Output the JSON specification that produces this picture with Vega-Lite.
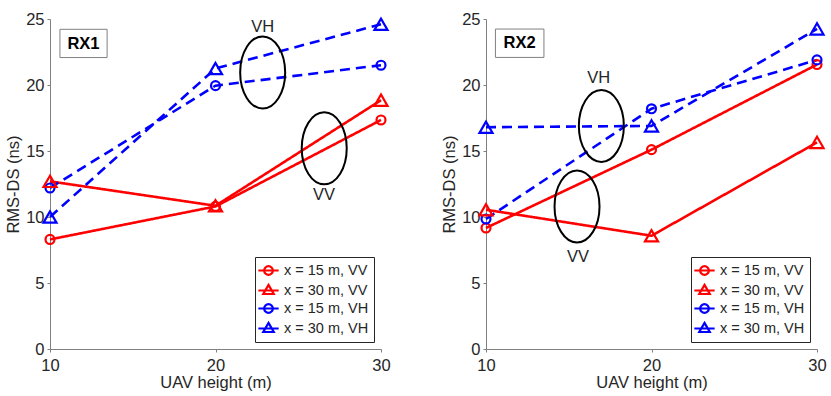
{
  "$schema": "https://vega.github.io/schema/vega-lite/v6.json",
  "padding": {"left": 5, "top": 11, "right": 5, "bottom": 0},
  "datasets": {
    "rms": [
      {"rx": "RX1", "series": "x = 15 m, VV", "h": 10, "v": 8.3},
      {"rx": "RX1", "series": "x = 15 m, VV", "h": 20, "v": 10.8},
      {"rx": "RX1", "series": "x = 15 m, VV", "h": 30, "v": 17.35},
      {"rx": "RX1", "series": "x = 30 m, VV", "h": 10, "v": 12.7},
      {"rx": "RX1", "series": "x = 30 m, VV", "h": 20, "v": 10.85},
      {"rx": "RX1", "series": "x = 30 m, VV", "h": 30, "v": 18.85},
      {"rx": "RX1", "series": "x = 15 m, VH", "h": 10, "v": 12.2},
      {"rx": "RX1", "series": "x = 15 m, VH", "h": 20, "v": 19.95},
      {"rx": "RX1", "series": "x = 15 m, VH", "h": 30, "v": 21.5},
      {"rx": "RX1", "series": "x = 30 m, VH", "h": 10, "v": 10.0},
      {"rx": "RX1", "series": "x = 30 m, VH", "h": 20, "v": 21.25},
      {"rx": "RX1", "series": "x = 30 m, VH", "h": 30, "v": 24.6},
      {"rx": "RX2", "series": "x = 15 m, VV", "h": 10, "v": 9.17},
      {"rx": "RX2", "series": "x = 15 m, VV", "h": 20, "v": 15.1},
      {"rx": "RX2", "series": "x = 15 m, VV", "h": 30, "v": 21.55},
      {"rx": "RX2", "series": "x = 30 m, VV", "h": 10, "v": 10.55},
      {"rx": "RX2", "series": "x = 30 m, VV", "h": 20, "v": 8.58},
      {"rx": "RX2", "series": "x = 30 m, VV", "h": 30, "v": 15.65},
      {"rx": "RX2", "series": "x = 15 m, VH", "h": 10, "v": 9.85},
      {"rx": "RX2", "series": "x = 15 m, VH", "h": 20, "v": 18.2},
      {"rx": "RX2", "series": "x = 15 m, VH", "h": 30, "v": 21.9},
      {"rx": "RX2", "series": "x = 30 m, VH", "h": 10, "v": 16.8},
      {"rx": "RX2", "series": "x = 30 m, VH", "h": 20, "v": 16.9},
      {"rx": "RX2", "series": "x = 30 m, VH", "h": 30, "v": 24.25}
    ],
    "ellipses": [
      {"rx": "RX1", "h": 22.85, "v": 20.95},
      {"rx": "RX1", "h": 26.57, "v": 15.2},
      {"rx": "RX2", "h": 16.97, "v": 16.9},
      {"rx": "RX2", "h": 15.5, "v": 10.8}
    ],
    "labels": [
      {"rx": "RX1", "h": 22.85, "v": 24.4, "text": "VH"},
      {"rx": "RX1", "h": 26.55, "v": 11.65, "text": "VV"},
      {"rx": "RX2", "h": 16.81, "v": 20.5, "text": "VH"},
      {"rx": "RX2", "h": 15.56, "v": 7.0, "text": "VV"}
    ],
    "boxes": [
      {"rx": "RX1", "h": 10.6, "h2": 13.45, "v": 22.08, "v2": 24.22, "hc": 12.02, "vc": 23.13},
      {"rx": "RX2", "h": 10.57, "h2": 13.5, "v": 22.09, "v2": 24.24, "hc": 12.03, "vc": 23.15}
    ]
  },
  "spacing": 49,
  "hconcat": [
    {
      "width": 331,
      "height": 330,
      "encoding": {
        "x": {"field": "h", "type": "quantitative", "scale": {"domain": [10, 30], "nice": false, "zero": false}, "axis": {"title": "UAV height (m)", "values": [10, 20, 30]}},
        "y": {"field": "v", "type": "quantitative", "scale": {"domain": [0, 25], "nice": false}, "axis": {"title": "RMS-DS (ns)", "values": [0, 5, 10, 15, 20, 25]}}
      },
      "layer": [
        {
          "data": {"name": "boxes"},
          "transform": [{"filter": "datum.rx == 'RX1'"}],
          "mark": {"type": "rect", "fill": "white", "stroke": "#808080", "strokeWidth": 1},
          "encoding": {"x2": {"field": "h2"}, "y2": {"field": "v2"}}
        },
        {
          "data": {"name": "boxes"},
          "transform": [{"filter": "datum.rx == 'RX1'"}],
          "mark": {"type": "text", "text": "RX1", "fontSize": 16.5, "fontWeight": "bold", "color": "black", "align": "center", "baseline": "middle"},
          "encoding": {"x": {"field": "hc", "type": "quantitative"}, "y": {"field": "vc", "type": "quantitative"}}
        },
        {
          "data": {"name": "rms"},
          "transform": [{"filter": "datum.rx == 'RX1'"}],
          "mark": {"type": "line", "strokeWidth": 2.6},
          "encoding": {
            "color": {"field": "series", "type": "nominal", "scale": {"domain": ["x = 30 m, VH", "x = 15 m, VH", "x = 30 m, VV", "x = 15 m, VV"], "range": ["#0000ff", "#0000ff", "#ff0000", "#ff0000"]}, "legend": null},
            "strokeDash": {"field": "series", "type": "nominal", "scale": {"domain": ["x = 30 m, VH", "x = 15 m, VH", "x = 30 m, VV", "x = 15 m, VV"], "range": [[10, 6], [10, 6], [1, 0], [1, 0]]}, "legend": null}
          }
        },
        {
          "data": {"name": "rms"},
          "transform": [{"filter": "datum.rx == 'RX1' && indexof(datum.series, '15') >= 0"}],
          "mark": {"type": "point", "shape": "circle", "size": 80, "filled": false, "strokeWidth": 2.2, "opacity": 1},
          "encoding": {"color": {"field": "series", "type": "nominal", "legend": null}}
        },
        {
          "data": {"name": "rms"},
          "transform": [{"filter": "datum.rx == 'RX1' && indexof(datum.series, '30') >= 0"}],
          "mark": {"type": "point", "shape": "triangle-up", "size": 170, "filled": false, "strokeWidth": 2.2, "opacity": 1},
          "encoding": {"color": {"field": "series", "type": "nominal", "legend": null}}
        },
        {
          "data": {"name": "rms"},
          "transform": [{"filter": "datum.rx == 'RX1'"}],
          "mark": {"type": "point", "size": 0, "filled": false, "strokeWidth": 2.2, "opacity": 1},
          "encoding": {
            "stroke": {"field": "series", "type": "nominal", "scale": {"domain": ["x = 15 m, VV", "x = 30 m, VV", "x = 15 m, VH", "x = 30 m, VH"], "range": ["#ff0000", "#ff0000", "#0000ff", "#0000ff"]},
              "legend": {"title": null, "orient": "bottom-right", "offset": 7, "padding": 5, "fillColor": "white", "strokeColor": "#262626", "labelFontSize": 14.5, "labelColor": "#262626", "symbolSize": 196, "symbolStrokeWidth": 2.2, "symbolOpacity": 1, "rowPadding": 0, "labelOffset": 7}},
            "shape": {"field": "series", "type": "nominal", "scale": {"domain": ["x = 15 m, VV", "x = 30 m, VV", "x = 15 m, VH", "x = 30 m, VH"], "range": ["M -1.45 0 L 1.45 0 M 0.62 0 A 0.62 0.62 0 1 1 -0.62 0 A 0.62 0.62 0 1 1 0.62 0 Z", "M -1.45 0 L 1.45 0 M 0 -0.8 L 0.75 0.5 L -0.75 0.5 Z", "M -1.45 0 L 1.45 0 M 0.62 0 A 0.62 0.62 0 1 1 -0.62 0 A 0.62 0.62 0 1 1 0.62 0 Z", "M -1.45 0 L 1.45 0 M 0 -0.8 L 0.75 0.5 L -0.75 0.5 Z"]},
              "legend": {"title": null, "orient": "bottom-right", "offset": 7, "padding": 5, "fillColor": "white", "strokeColor": "#262626", "labelFontSize": 14.5, "labelColor": "#262626", "symbolSize": 196, "symbolStrokeWidth": 2.2, "symbolOpacity": 1, "rowPadding": 0, "labelOffset": 7}}
          }
        },
        {
          "data": {"name": "ellipses"},
          "transform": [{"filter": "datum.rx == 'RX1'"}],
          "mark": {"type": "point", "shape": "M 0.625 0 A 0.625 1 0 1 1 -0.625 0 A 0.625 1 0 1 1 0.625 0 Z", "size": 5184, "filled": false, "stroke": "black", "strokeWidth": 2, "opacity": 1}
        },
        {
          "data": {"name": "labels"},
          "transform": [{"filter": "datum.rx == 'RX1'"}],
          "mark": {"type": "text", "fontSize": 16.5, "color": "#262626", "align": "center", "baseline": "middle"},
          "encoding": {"text": {"field": "text"}}
        }
      ]
    },
    {
      "width": 331,
      "height": 330,
      "encoding": {
        "x": {"field": "h", "type": "quantitative", "scale": {"domain": [10, 30], "nice": false, "zero": false}, "axis": {"title": "UAV height (m)", "values": [10, 20, 30]}},
        "y": {"field": "v", "type": "quantitative", "scale": {"domain": [0, 25], "nice": false}, "axis": {"title": "RMS-DS (ns)", "values": [0, 5, 10, 15, 20, 25]}}
      },
      "layer": [
        {
          "data": {"name": "boxes"},
          "transform": [{"filter": "datum.rx == 'RX2'"}],
          "mark": {"type": "rect", "fill": "white", "stroke": "#808080", "strokeWidth": 1},
          "encoding": {"x2": {"field": "h2"}, "y2": {"field": "v2"}}
        },
        {
          "data": {"name": "boxes"},
          "transform": [{"filter": "datum.rx == 'RX2'"}],
          "mark": {"type": "text", "text": "RX2", "fontSize": 16.5, "fontWeight": "bold", "color": "black", "align": "center", "baseline": "middle"},
          "encoding": {"x": {"field": "hc", "type": "quantitative"}, "y": {"field": "vc", "type": "quantitative"}}
        },
        {
          "data": {"name": "rms"},
          "transform": [{"filter": "datum.rx == 'RX2'"}],
          "mark": {"type": "line", "strokeWidth": 2.6},
          "encoding": {
            "color": {"field": "series", "type": "nominal", "scale": {"domain": ["x = 30 m, VH", "x = 15 m, VH", "x = 30 m, VV", "x = 15 m, VV"], "range": ["#0000ff", "#0000ff", "#ff0000", "#ff0000"]}, "legend": null},
            "strokeDash": {"field": "series", "type": "nominal", "scale": {"domain": ["x = 30 m, VH", "x = 15 m, VH", "x = 30 m, VV", "x = 15 m, VV"], "range": [[10, 6], [10, 6], [1, 0], [1, 0]]}, "legend": null}
          }
        },
        {
          "data": {"name": "rms"},
          "transform": [{"filter": "datum.rx == 'RX2' && indexof(datum.series, '15') >= 0"}],
          "mark": {"type": "point", "shape": "circle", "size": 80, "filled": false, "strokeWidth": 2.2, "opacity": 1},
          "encoding": {"color": {"field": "series", "type": "nominal", "legend": null}}
        },
        {
          "data": {"name": "rms"},
          "transform": [{"filter": "datum.rx == 'RX2' && indexof(datum.series, '30') >= 0"}],
          "mark": {"type": "point", "shape": "triangle-up", "size": 170, "filled": false, "strokeWidth": 2.2, "opacity": 1},
          "encoding": {"color": {"field": "series", "type": "nominal", "legend": null}}
        },
        {
          "data": {"name": "rms"},
          "transform": [{"filter": "datum.rx == 'RX2'"}],
          "mark": {"type": "point", "size": 0, "filled": false, "strokeWidth": 2.2, "opacity": 1},
          "encoding": {
            "stroke": {"field": "series", "type": "nominal", "scale": {"domain": ["x = 15 m, VV", "x = 30 m, VV", "x = 15 m, VH", "x = 30 m, VH"], "range": ["#ff0000", "#ff0000", "#0000ff", "#0000ff"]},
              "legend": {"title": null, "orient": "bottom-right", "offset": 7, "padding": 5, "fillColor": "white", "strokeColor": "#262626", "labelFontSize": 14.5, "labelColor": "#262626", "symbolSize": 196, "symbolStrokeWidth": 2.2, "symbolOpacity": 1, "rowPadding": 0, "labelOffset": 7}},
            "shape": {"field": "series", "type": "nominal", "scale": {"domain": ["x = 15 m, VV", "x = 30 m, VV", "x = 15 m, VH", "x = 30 m, VH"], "range": ["M -1.45 0 L 1.45 0 M 0.62 0 A 0.62 0.62 0 1 1 -0.62 0 A 0.62 0.62 0 1 1 0.62 0 Z", "M -1.45 0 L 1.45 0 M 0 -0.8 L 0.75 0.5 L -0.75 0.5 Z", "M -1.45 0 L 1.45 0 M 0.62 0 A 0.62 0.62 0 1 1 -0.62 0 A 0.62 0.62 0 1 1 0.62 0 Z", "M -1.45 0 L 1.45 0 M 0 -0.8 L 0.75 0.5 L -0.75 0.5 Z"]},
              "legend": {"title": null, "orient": "bottom-right", "offset": 7, "padding": 5, "fillColor": "white", "strokeColor": "#262626", "labelFontSize": 14.5, "labelColor": "#262626", "symbolSize": 196, "symbolStrokeWidth": 2.2, "symbolOpacity": 1, "rowPadding": 0, "labelOffset": 7}}
          }
        },
        {
          "data": {"name": "ellipses"},
          "transform": [{"filter": "datum.rx == 'RX2'"}],
          "mark": {"type": "point", "shape": "M 0.625 0 A 0.625 1 0 1 1 -0.625 0 A 0.625 1 0 1 1 0.625 0 Z", "size": 5184, "filled": false, "stroke": "black", "strokeWidth": 2, "opacity": 1}
        },
        {
          "data": {"name": "labels"},
          "transform": [{"filter": "datum.rx == 'RX2'"}],
          "mark": {"type": "text", "fontSize": 16.5, "color": "#262626", "align": "center", "baseline": "middle"},
          "encoding": {"text": {"field": "text"}}
        }
      ]
    }
  ],
  "resolve": {"scale": {"color": "independent", "stroke": "independent", "strokeDash": "independent", "shape": "independent"}, "legend": {"stroke": "independent", "shape": "independent"}},
  "config": {
    "view": {"stroke": null},
    "font": "Liberation Sans",
    "axis": {"grid": false, "domainColor": "#808080", "tickColor": "#808080", "labelColor": "#262626", "titleColor": "#262626", "labelFontSize": 16.5, "titleFontSize": 16.5, "titleFontWeight": "normal", "tickSize": 3, "labelPadding": 3, "labelFlush": false, "labelOverlap": false, "domainWidth": 1},
    "axisY": {"titlePadding": 4},
    "axisX": {"titlePadding": 1, "labelPadding": 5}
  }
}
